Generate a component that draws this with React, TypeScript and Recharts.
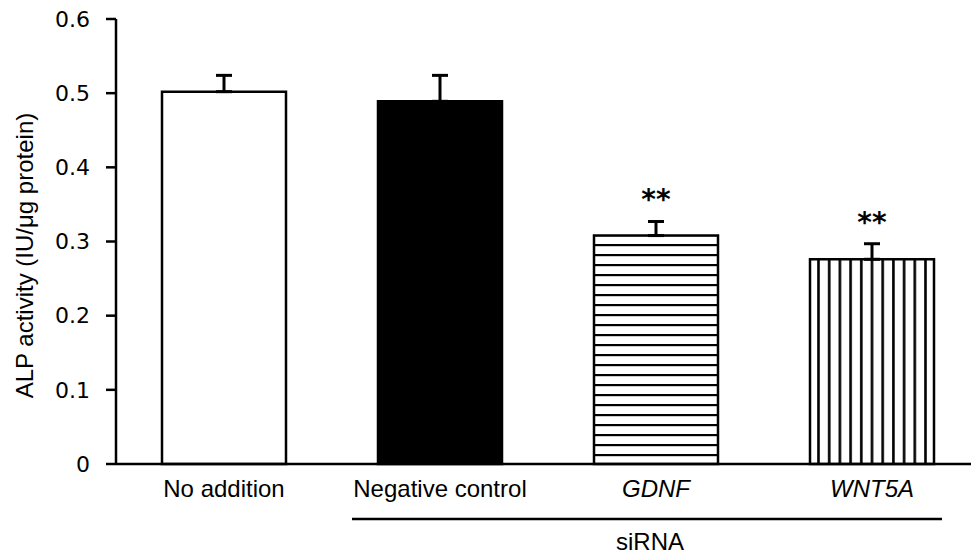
import { BarChart, Bar, XAxis, YAxis, Cell, ErrorBar, LabelList, Label } from "recharts";

const categories = ["No addition", "Negative control", "GDNF", "WNT5A"];
const means = [0.502, 0.489, 0.308, 0.276];
const errors = [0.022, 0.035, 0.019, 0.021];
const marks = ["", "", "**", "**"];
const italicNames = [false, false, true, true];
const fills = ["#ffffff", "#000000", "url(#hlines)", "url(#vlines)"];
const yTicks = [0, 0.1, 0.2, 0.3, 0.4, 0.5, 0.6];
const groupLabel = "siRNA";
const yTitle = "ALP activity (IU/μg protein)";

const data = categories.map((name, i) => ({
  name,
  mean: means[i],
  err: [0, errors[i]],
  mark: marks[i],
}));

const SANS = "'Liberation Sans', Arial, sans-serif";

function CategoryTick(props: any) {
  const { x, y, payload } = props;
  const i = categories.indexOf(payload.value);
  return (
    <g>
      <text x={x} y={y + 33} textAnchor="middle" fontSize={24} fontFamily={SANS}
        fontStyle={italicNames[i] ? "italic" : "normal"} fill="#000">
        {payload.value}
      </text>
      {i === 1 && (
        <g>
          <line x1={x - 88} x2={x + 502} y1={y + 55} y2={y + 55} stroke="#000" strokeWidth={2.5} />
          <text x={x + 210} y={y + 86} textAnchor="middle" fontSize={24} fontFamily={SANS} fill="#000">
            {groupLabel}
          </text>
        </g>
      )}
    </g>
  );
}

function StarLabel(props: any) {
  const vb = props.viewBox ?? props;
  const idx = props.index;
  if (idx == null || !marks[idx]) return null;
  const { x, y, width, height } = vb;
  const errTop = y - (errors[idx] / means[idx]) * height;
  return (
    <text x={x + width / 2} y={errTop - 12} textAnchor="middle" fontSize={28} fontWeight="bold"
      fontFamily="'DejaVu Sans', Verdana, sans-serif" fill="#000">
      {marks[idx]}
    </text>
  );
}

function YTitle(props: any) {
  const vb = props.viewBox;
  const cx = 24;
  const cy = vb.y + vb.height / 2 + 14;
  return (
    <text x={cx} y={cy} transform={`rotate(-90 ${cx} ${cy})`} textAnchor="middle" dominantBaseline="central"
      fontSize={24} fontFamily={SANS} fill="#000">
      {yTitle}
    </text>
  );
}

export default function App() {
  return (
    <div style={{ position: "absolute", left: 0, top: 0, width: 971, height: 555, overflow: "hidden", background: "#fff" }}>
      <BarChart width={990} height={555} data={data} margin={{ top: 19, right: 10, bottom: 0, left: 0 }}>
        <defs>
          <pattern id="hlines" patternUnits="userSpaceOnUse" width={10} height={10}>
            <rect width={10} height={10} fill="#fff" />
            <rect x={0} y={4} width={10} height={2.2} fill="#000" />
          </pattern>
          <pattern id="vlines" patternUnits="userSpaceOnUse" width={10.7} height={10}>
            <rect width={10.7} height={10} fill="#fff" />
            <rect x={4} y={0} width={2.6} height={10} fill="#000" />
          </pattern>
        </defs>
        <XAxis dataKey="name" height={91} interval={0} tickSize={0} tickMargin={0} tickLine={false}
          axisLine={{ stroke: "#000", strokeWidth: 2.5 }} tick={<CategoryTick />} />
        <YAxis width={116} domain={[0, 0.6]} ticks={yTicks} interval={0} tickSize={10} tickMargin={16}
          axisLine={{ stroke: "#000", strokeWidth: 2.5 }} tickLine={{ stroke: "#000", strokeWidth: 2.5 }}
          tick={{ fill: "#000", fontSize: 22, fontFamily: "'DejaVu Sans', Verdana, sans-serif" }}
          tickFormatter={(v: number) => (v === 0 ? "0" : v.toFixed(1))}>
          <Label content={<YTitle />} />
        </YAxis>
        <Bar dataKey="mean" barSize={124} stroke="#000" strokeWidth={2.5} isAnimationActive={false}>
          {data.map((d, i) => (
            <Cell key={d.name} fill={fills[i]} />
          ))}
          <ErrorBar dataKey="err" width={8} stroke="#000" strokeWidth={3} direction="y" />
          <LabelList dataKey="mark" content={<StarLabel />} />
        </Bar>
      </BarChart>
    </div>
  );
}
